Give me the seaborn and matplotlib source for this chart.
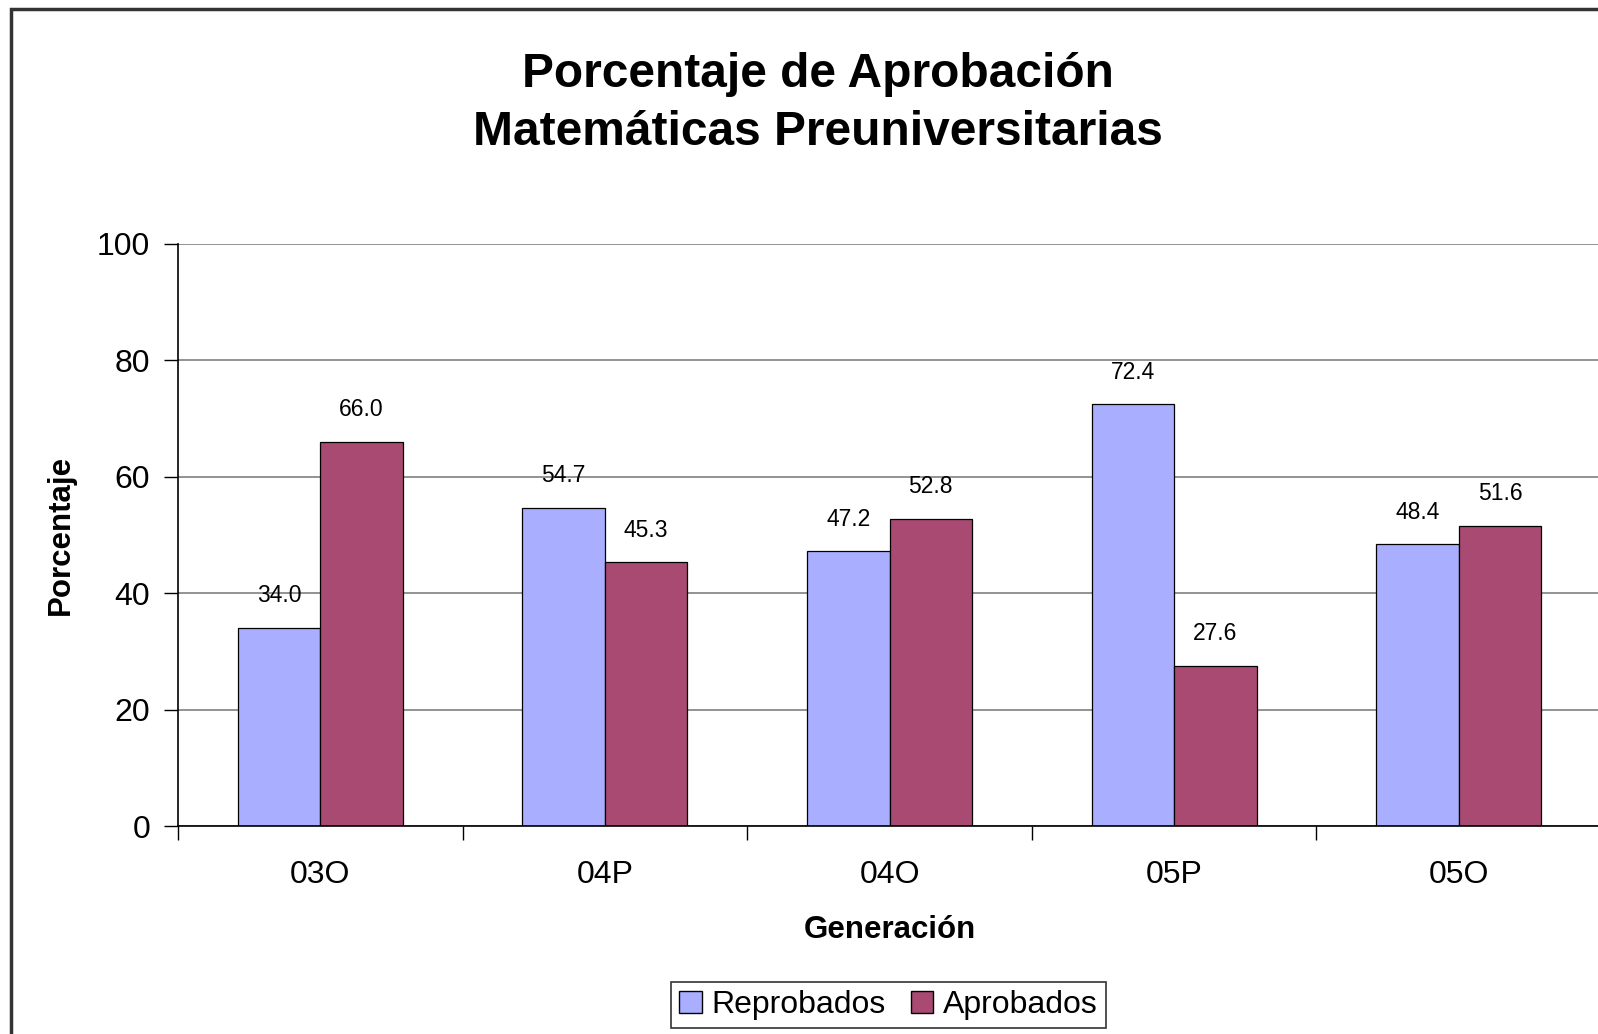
# Bar chart: approval percentage by generation.
import pandas as pd
import matplotlib.pyplot as plt
import seaborn as sns
from matplotlib.patches import Rectangle

# Data.
generaciones = ['03O', '04P', '04O', '05P', '05O']
reprobados = [34.0, 54.7, 47.2, 72.4, 48.4]
aprobados = [66.0, 45.3, 52.8, 27.6, 51.6]
series = ['Reprobados', 'Aprobados']
colores = ['#AAAEFF', '#A94A73']

df = pd.DataFrame({
    'Generación': generaciones * 2,
    'Serie': [series[0]] * len(generaciones) + [series[1]] * len(generaciones),
    'Porcentaje': reprobados + aprobados,
})

sns.set_style('white')
plt.rcParams['font.family'] = ['Liberation Sans', 'DejaVu Sans']
plt.rcParams['text.color'] = 'black'
plt.rcParams['axes.labelcolor'] = 'black'
plt.rcParams['xtick.color'] = 'black'
plt.rcParams['ytick.color'] = 'black'

fig = plt.figure(figsize=(15.98, 10.34), dpi=100)
ax = fig.add_axes([0.1114, 0.2007, 0.8905, 0.5637])

sns.barplot(data=df, x='Generación', y='Porcentaje', hue='Serie',
            hue_order=series, palette=colores, width=0.58,
            edgecolor='black', linewidth=0.9, saturation=1, ax=ax, legend=False)

for cont in ax.containers:
    ax.bar_label(cont, fmt='%.1f', padding=15, fontsize=16.5)

ax.set_xlim(-0.5, 4.5)
ax.set_ylim(0, 100)
ax.set_yticks([0, 20, 40, 60, 80, 100])
ax.yaxis.grid(True, color='#808080', linewidth=1.2)
ax.set_axisbelow(True)
ax.tick_params(axis='y', labelsize=23, direction='out', length=10, width=1, left=True, pad=10)
ax.set_xticks(range(len(generaciones)))
ax.set_xticklabels(generaciones)
ax.set_xticks([i - 0.5 for i in range(len(generaciones) + 1)], minor=True)
ax.tick_params(axis='x', which='major', labelsize=23, length=0, pad=24)
ax.tick_params(axis='x', which='minor', direction='out', length=10, width=1, bottom=True)

for side in ['top', 'right']:
    ax.spines[side].set_visible(False)
for side in ['left', 'bottom']:
    ax.spines[side].set_color('black')
    ax.spines[side].set_linewidth(1.2)

ax.set_xlabel('Generación', fontsize=22.5, fontweight='bold', labelpad=18)
ax.set_ylabel('Porcentaje', fontsize=22.5, fontweight='bold', labelpad=15)

fig.text(0.512, 0.928, 'Porcentaje de Aprobación', ha='center', va='center',
         fontsize=34.5, fontweight='bold')
fig.text(0.512, 0.872, 'Matemáticas Preuniversitarias', ha='center', va='center',
         fontsize=34.5, fontweight='bold')

handles = [Rectangle((0, 0), 1, 1, facecolor=c, edgecolor='black', linewidth=1) for c in colores]
leg = fig.legend(handles, series, loc='center', bbox_to_anchor=(0.556, 0.0277), ncol=2,
                 fontsize=23, frameon=True, fancybox=False, edgecolor='black',
                 handlelength=0.7, handleheight=0.7, handletextpad=0.3,
                 columnspacing=0.8, borderpad=0.25, borderaxespad=0)
leg.get_frame().set_linewidth(1.2)

# Outer chart border (cut off at right and bottom in the reference).
fig.patches.append(Rectangle((11 / 1598, -0.1), 1.2, 1 - 9 / 1034 + 0.1,
                             transform=fig.transFigure, fill=False,
                             edgecolor='#333333', linewidth=2.5))

plt.savefig('out.png', dpi=100)
